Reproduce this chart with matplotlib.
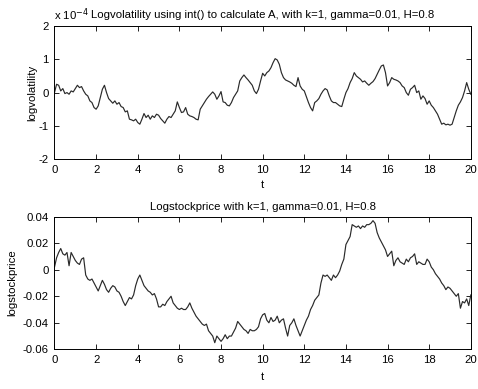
import numpy as np
import matplotlib
matplotlib.use("Agg")
import matplotlib.pyplot as plt

plt.rcParams['font.family'] = ['Liberation Sans', 'DejaVu Sans']
plt.rcParams['axes.unicode_minus'] = False

# time axis (t from 0 to 20, step 0.1)
t = np.linspace(0, 20, 201)

# log volatility, in units of 1e-4
logvol = [
    0.0, 0.25, 0.22, 0.05, 0.12, -0.03, 0.0, -0.05, 0.05, 0.02,
    0.12, 0.22, 0.15, 0.18, 0.05, -0.05, -0.1, -0.25, -0.3, -0.45,
    -0.5, -0.4, -0.15, 0.1, 0.22, 0.0, -0.18, -0.25, -0.32, -0.25,
    -0.35, -0.3, -0.42, -0.45, -0.58, -0.55, -0.8, -0.82, -0.85, -0.8,
    -0.9, -0.95, -0.8, -0.63, -0.75, -0.68, -0.8, -0.7, -0.75, -0.65,
    -0.68, -0.78, -0.85, -0.92, -0.8, -0.72, -0.75, -0.65, -0.55, -0.28,
    -0.45, -0.6, -0.58, -0.45, -0.65, -0.7, -0.72, -0.75, -0.8, -0.82,
    -0.5, -0.4, -0.3, -0.2, -0.12, -0.05, 0.02, -0.05, -0.2, -0.1,
    0.03, -0.28, -0.3, -0.38, -0.4, -0.3, -0.15, -0.05, 0.05, 0.35,
    0.45, 0.53, 0.45, 0.38, 0.3, 0.22, 0.05, -0.03, 0.1, 0.35,
    0.58, 0.5, 0.6, 0.65, 0.75, 0.9, 1.02, 0.98, 0.85, 0.6,
    0.45, 0.38, 0.35, 0.32, 0.28, 0.22, 0.18, 0.45, 0.2, 0.1,
    0.05, -0.13, -0.3, -0.45, -0.55, -0.3, -0.25, -0.18, -0.05, 0.05,
    0.12, 0.08, -0.1, -0.25, -0.3, -0.3, -0.35, -0.4, -0.42, -0.2,
    0.0, 0.12, 0.3, 0.42, 0.6, 0.5, 0.45, 0.4, 0.32, 0.35,
    0.28, 0.22, 0.28, 0.33, 0.42, 0.55, 0.68, 0.8, 0.83, 0.6,
    0.2, 0.3, 0.45, 0.4, 0.38, 0.35, 0.3, 0.2, 0.15, 0.0,
    -0.08, 0.1, 0.15, 0.22, 0.0, 0.05, -0.2, -0.1, -0.18, -0.35,
    -0.25, -0.38, -0.45, -0.55, -0.65, -0.8, -0.95, -0.92, -0.97, -0.95,
    -0.98, -0.95, -0.75, -0.55, -0.38, -0.28, -0.15, 0.05, 0.3, 0.1,
    -0.05,
]

# log stock price
logprice = [
    0.002, 0.009, 0.013, 0.016, 0.012, 0.011, 0.013, 0.003, 0.013, 0.010,
    0.007, 0.005, 0.004, 0.008, 0.009, -0.004, -0.007, -0.008, -0.007, -0.010,
    -0.013, -0.016, -0.012, -0.008, -0.011, -0.015, -0.017, -0.014, -0.012, -0.013,
    -0.016, -0.017, -0.020, -0.024, -0.027, -0.024, -0.021, -0.022, -0.019, -0.012,
    -0.007, -0.004, -0.008, -0.012, -0.014, -0.016, -0.017, -0.019, -0.018, -0.022,
    -0.028, -0.028, -0.026, -0.027, -0.024, -0.022, -0.020, -0.025, -0.027, -0.029,
    -0.030, -0.029, -0.030, -0.030, -0.028, -0.025, -0.029, -0.032, -0.035, -0.037,
    -0.039, -0.041, -0.042, -0.041, -0.046, -0.048, -0.050, -0.055, -0.050, -0.052,
    -0.054, -0.052, -0.049, -0.052, -0.050, -0.050, -0.047, -0.044, -0.039, -0.041,
    -0.043, -0.045, -0.046, -0.048, -0.045, -0.046, -0.046, -0.045, -0.043, -0.037,
    -0.034, -0.033, -0.038, -0.040, -0.036, -0.039, -0.038, -0.035, -0.040, -0.038,
    -0.037, -0.044, -0.050, -0.042, -0.040, -0.037, -0.042, -0.046, -0.050, -0.046,
    -0.042, -0.038, -0.035, -0.030, -0.027, -0.023, -0.021, -0.019, -0.010, -0.004,
    -0.005, -0.004, -0.006, -0.008, -0.004, -0.006, -0.004, -0.001, 0.004, 0.008,
    0.019, 0.022, 0.025, 0.034, 0.033, 0.032, 0.033, 0.031, 0.033, 0.032,
    0.034, 0.034, 0.035, 0.037, 0.035, 0.028, 0.024, 0.021, 0.018, 0.015,
    0.010, 0.012, 0.014, 0.003, 0.007, 0.009, 0.006, 0.005, 0.004, 0.008,
    0.006, 0.009, 0.010, 0.012, 0.004, 0.006, 0.005, 0.004, 0.004, 0.008,
    0.006, 0.002, 0.000, -0.003, -0.005, -0.007, -0.010, -0.012, -0.015, -0.013,
    -0.014, -0.016, -0.018, -0.020, -0.018, -0.029, -0.024, -0.025, -0.022, -0.027,
    -0.019,
]

xticks = [0, 2, 4, 6, 8, 10, 12, 14, 16, 18, 20]
vol_ticks = [-2, -1, 0, 1, 2]
price_ticks = [-0.06, -0.04, -0.02, 0, 0.02, 0.04]
price_labels = ['-0.06', '-0.04', '-0.02', '0', '0.02', '0.04']

title1 = 'Logvolatility using int() to calculate A, with k=1, gamma=0.01, H=0.8'
title2 = 'Logstockprice with k=1, gamma=0.01, H=0.8'

fig = plt.figure(figsize=(4.78, 3.89), dpi=100)
ax1 = fig.add_axes([0.114, 0.591, 0.871, 0.342])
ax2 = fig.add_axes([0.114, 0.102, 0.871, 0.341])

fs = 8.2
line_color = '#2a2a2a'

def style(ax):
    ax.tick_params(direction='in', top=True, right=True, length=3.5, width=0.6,
                   labelsize=fs, pad=4, colors='black')
    for s in ax.spines.values():
        s.set_linewidth(0.7)
    ax.set_xlim(0, 20)
    ax.set_xticks(xticks)
    ax.set_xticklabels([str(v) for v in xticks])

ax1.plot(t, logvol, color=line_color, lw=0.85)
style(ax1)
ax1.set_ylim(-2, 2)
ax1.set_yticks(vol_ticks)
ax1.set_yticklabels([str(v) for v in vol_ticks])
ax1.set_xlabel('t', fontsize=fs, labelpad=4)
ax1.set_ylabel('logvolatility', fontsize=fs, labelpad=1)
ax1.set_title(title1, fontsize=fs, pad=6)
ax1.text(0.0, 1.025, r'x 10$^{-4}$', transform=ax1.transAxes, fontsize=fs,
         ha='left', va='bottom')

ax2.plot(t, logprice, color=line_color, lw=0.85)
style(ax2)
ax2.set_ylim(-0.06, 0.04)
ax2.set_yticks(price_ticks)
ax2.set_yticklabels(price_labels)
ax2.set_xlabel('t', fontsize=fs, labelpad=5)
ax2.set_ylabel('logstockprice', fontsize=fs, labelpad=4)
ax2.set_title(title2, fontsize=fs, pad=5)

fig.savefig('out.png', dpi=100)
